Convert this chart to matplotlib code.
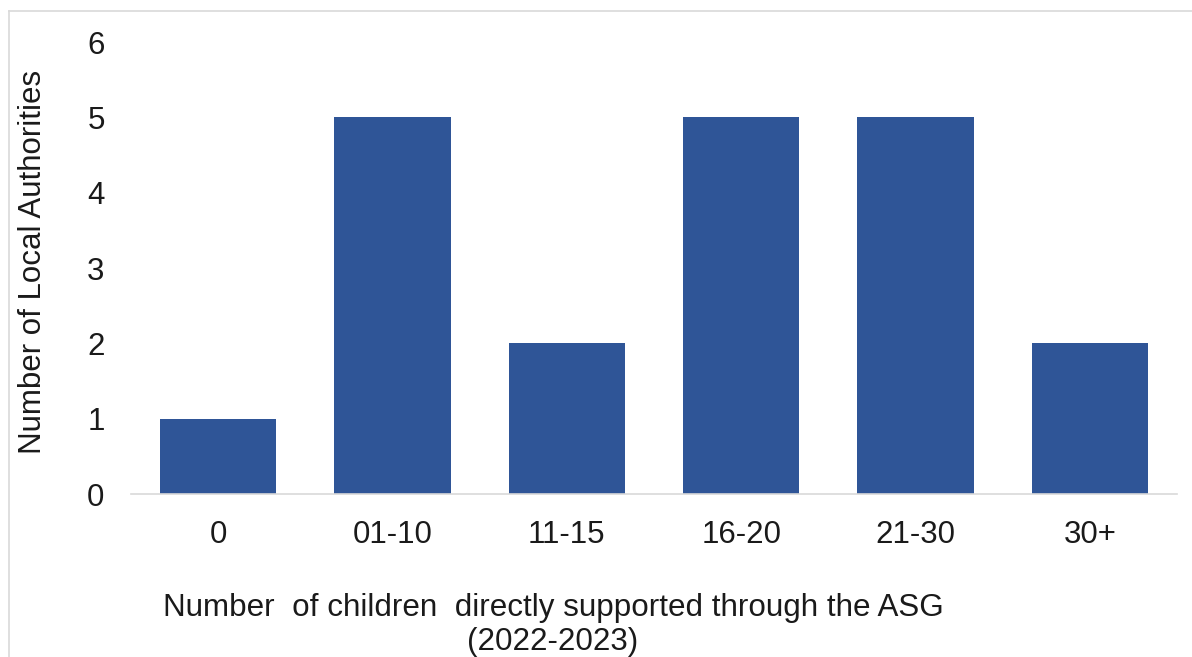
import matplotlib
matplotlib.use("Agg")
import matplotlib.pyplot as plt
from matplotlib.lines import Line2D

# Local authorities grouped by number of children supported through the ASG
categories = ["0", "01-10", "11-15", "16-20", "21-30", "30+"]
authorities = [1, 5, 2, 5, 5, 2]
y_ticks = [0, 1, 2, 3, 4, 5, 6]

bar_color = "#2F5597"
text_color = "#1a1a1a"
grid_gray = "#D9D9D9"

plt.rcParams["font.family"] = ["Liberation Sans", "DejaVu Sans"]

W, H = 1192, 657
fig = plt.figure(figsize=(W / 100, H / 100), dpi=100)
fig.patch.set_facecolor("white")

ax = fig.add_axes([131 / W, (H - 494) / H, (1177 - 131) / W, (494 - 42) / H])
x = list(range(len(categories)))
ax.bar(x, authorities, width=0.667, color=bar_color, zorder=2)

ax.set_xlim(-0.5, len(categories) - 0.5)
ax.set_ylim(0, 6)
ax.set_yticks(y_ticks)
ax.set_yticklabels([str(t) for t in y_ticks])
ax.set_xticks(x)
ax.set_xticklabels(categories)

for side in ("top", "right", "left"):
    ax.spines[side].set_visible(False)
ax.spines["bottom"].set_color(grid_gray)
ax.spines["bottom"].set_linewidth(1.2)

ax.tick_params(axis="both", length=0, labelsize=22.5, colors=text_color)
ax.tick_params(axis="y", pad=19)
ax.tick_params(axis="x", pad=18.5)

fig.text(33 / W, 1 - 262 / H, "Number of Local Authorities", rotation=90,
         ha="center", va="center", fontsize=22.5, color=text_color)

fig.text(553 / W, 1 - 608 / H,
         "Number  of children  directly supported through the ASG",
         ha="center", va="center", fontsize=22.6, color=text_color)
fig.text(553 / W, 1 - 642 / H, "(2022-2023)",
         ha="center", va="center", fontsize=22.6, color=text_color)

# light frame around the chart area
fig.add_artist(Line2D([9 / W, 1], [1 - 11 / H, 1 - 11 / H],
                      transform=fig.transFigure, color=grid_gray, lw=1.2))
fig.add_artist(Line2D([9 / W, 9 / W], [0, 1 - 11 / H],
                      transform=fig.transFigure, color=grid_gray, lw=1.2))

fig.savefig("out.png", dpi=100, facecolor="white")
